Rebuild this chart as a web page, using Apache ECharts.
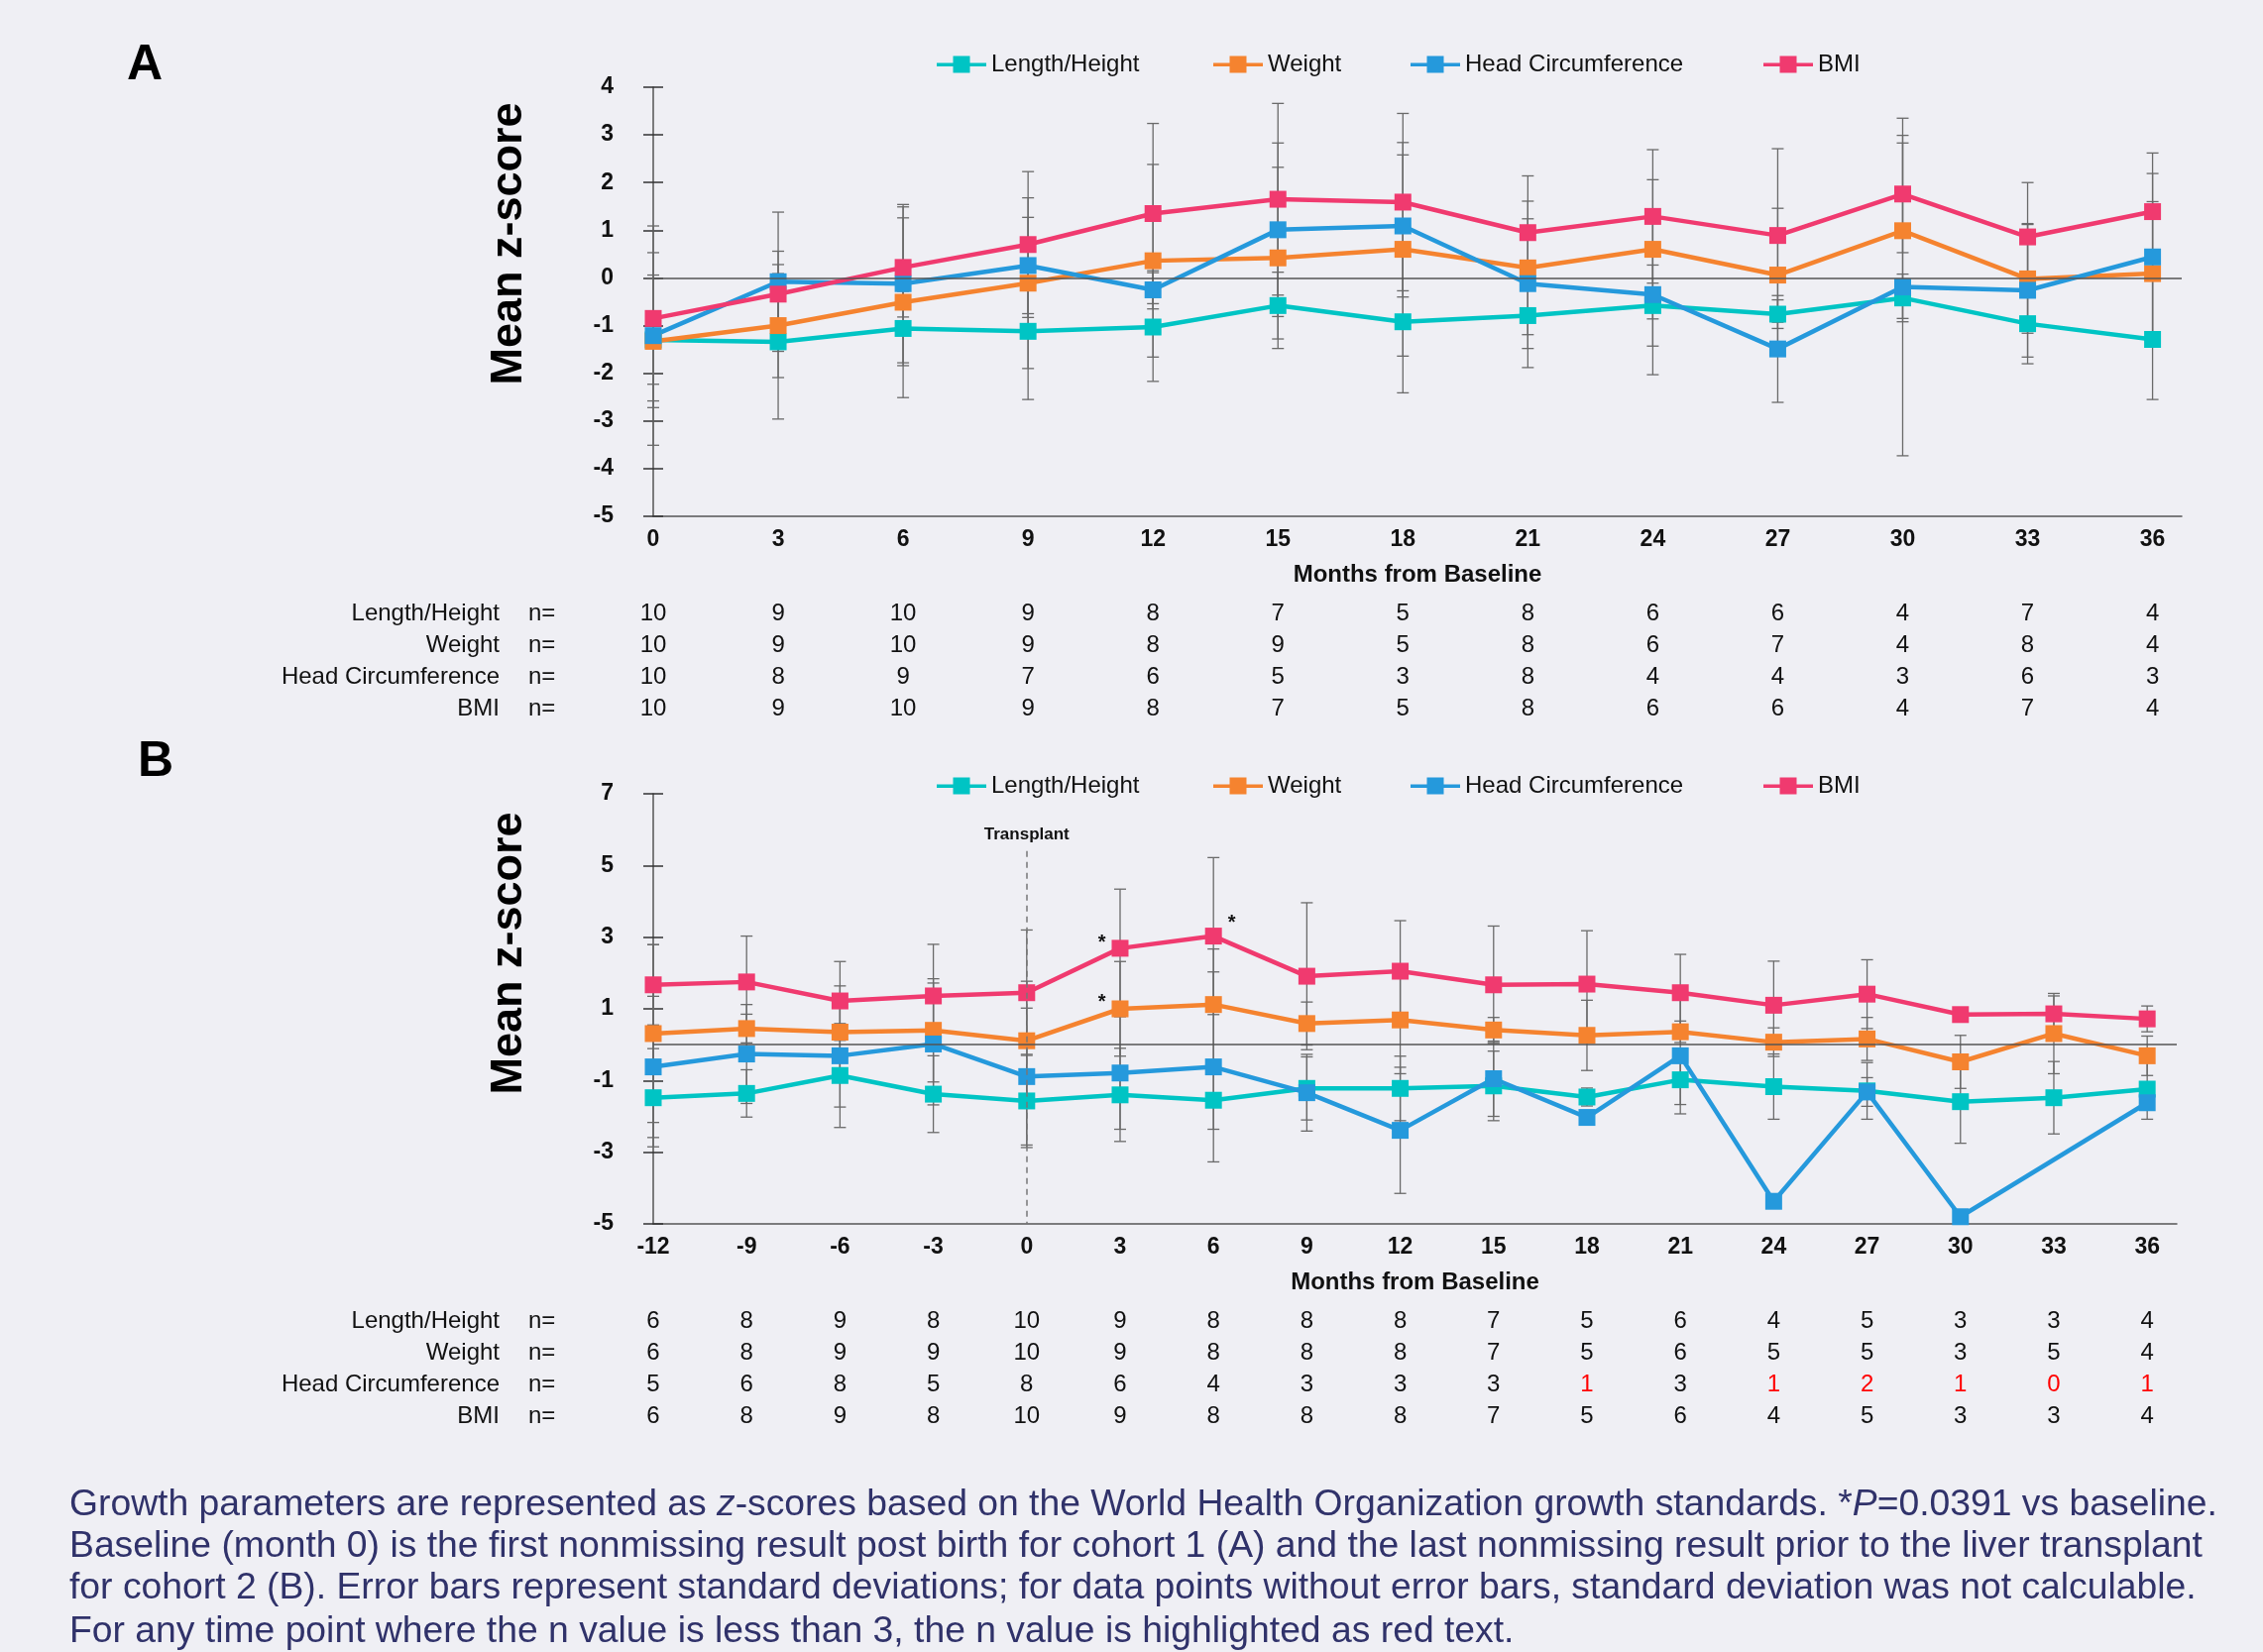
<!DOCTYPE html>
<html>
<head>
<meta charset="utf-8">
<script src="https://cdn.jsdelivr.net/npm/echarts@6/dist/echarts.min.js"></script>
<style>
html, body { margin: 0; padding: 0; background: #efeff4; }
#chart { width: 2283px; height: 1667px; }
</style>
</head>
<body>
<div id="chart"></div>
<script>
// ---- data ----
const seriesNames = ['Length/Height', 'Weight', 'Head Circumference', 'BMI']
const colors = ['#00c4c4', '#f5832f', '#2599dc', '#f03a6f']

// panel A (cohort 1)
const monthsA = [0, 3, 6, 9, 12, 15, 18, 21, 24, 27, 30, 33, 36]
const lhA = [-1.3, -1.34, -1.06, -1.12, -1.03, -0.58, -0.92, -0.79, -0.58, -0.76, -0.42, -0.96, -1.29]
const wA = [-1.33, -1.0, -0.51, -0.11, 0.36, 0.42, 0.60, 0.21, 0.60, 0.06, 0.99, -0.02, 0.09]
const hcA = [-1.21, -0.08, -0.12, 0.26, -0.25, 1.01, 1.09, -0.12, -0.35, -1.49, -0.19, -0.26, 0.44]
const bmiA = [-0.85, -0.34, 0.22, 0.70, 1.35, 1.65, 1.59, 0.95, 1.29, 0.89, 1.76, 0.86, 1.39]
const lhSdA = [1.28, 1.62, 0.78, 1.43, 1.14, 0.7, 1.49, 1.09, 0.85, 0.3, 0.5, 0.84, 1.26]
const wSdA = [1.39, 1.09, 2.0, 1.79, 2.02, 1.9, 2.24, 1.4, 1.46, 1.4, 1.84, 1.14, 1.51]
const hcSdA = [2.3, 1.46, 1.66, 1.01, 0.4, 1.82, 1.49, 1.36, 1.68, 1.12, 3.54, 1.4, 1.75]
const bmiSdA = [1.38, 0.9, 1.04, 1.53, 1.89, 2.01, 1.86, 1.19, 1.4, 1.82, 1.23, 1.14, 1.23]
const nLhA = [10, 9, 10, 9, 8, 7, 5, 8, 6, 6, 4, 7, 4]
const nWA = [10, 9, 10, 9, 8, 9, 5, 8, 6, 7, 4, 8, 4]
const nHcA = [10, 8, 9, 7, 6, 5, 3, 8, 4, 4, 3, 6, 3]
const nBmiA = [10, 9, 10, 9, 8, 7, 5, 8, 6, 6, 4, 7, 4]
const yTicksA = [-5, -4, -3, -2, -1, 0, 1, 2, 3, 4]

// panel B (cohort 2)
const monthsB = [-12, -9, -6, -3, 0, 3, 6, 9, 12, 15, 18, 21, 24, 27, 30, 33, 36]
const lhB = [-1.48, -1.36, -0.86, -1.38, -1.57, -1.40, -1.55, -1.22, -1.22, -1.15, -1.46, -0.98, -1.17, -1.29, -1.59, -1.48, -1.24]
const wB = [0.31, 0.45, 0.35, 0.40, 0.11, 1.0, 1.12, 0.59, 0.69, 0.41, 0.26, 0.36, 0.07, 0.16, -0.48, 0.31, -0.31]
const hcB = [-0.62, -0.26, -0.31, 0.02, -0.89, -0.79, -0.62, -1.34, -2.39, -0.95, -2.03, -0.31, -4.37, -1.32, -4.80, null, -1.62]
const bmiB = [1.67, 1.75, 1.22, 1.36, 1.45, 2.69, 3.03, 1.91, 2.05, 1.67, 1.69, 1.45, 1.10, 1.41, 0.84, 0.86, 0.72]
const lhSdB = [1.37, 0.66, 1.45, 1.07, 1.3, 1.3, 0.81, 0.88, 0.9, 0.97, 0.25, 0.69, 0.91, 0.79, 1.16, 1.01, 0.84]
const wSdB = [2.48, 0.4, 1.29, 1.44, 1.66, 1.32, 1.55, 0.6, 1.5, 0.35, 0.98, 0.3, 0.4, 0.6, 0.74, 1.12, 0.55]
const hcSdB = [1.97, 1.38, 1.43, 1.7, 1.91, 1.57, 2.65, 1.07, 1.76, 1.05, null, 1.62, null, 0.4, null, null, null]
const bmiSdB = [1.12, 1.28, 1.1, 1.44, 1.75, 1.65, 2.19, 2.05, 1.41, 1.64, 1.49, 1.07, 1.23, 0.96, 0.1, 0.5, 0.36]
const nLhB = [6, 8, 9, 8, 10, 9, 8, 8, 8, 7, 5, 6, 4, 5, 3, 3, 4]
const nWB = [6, 8, 9, 9, 10, 9, 8, 8, 8, 7, 5, 6, 5, 5, 3, 5, 4]
const nHcB = [5, 6, 8, 5, 8, 6, 4, 3, 3, 3, 1, 3, 1, 2, 1, 0, 1]
const nBmiB = [6, 8, 9, 8, 10, 9, 8, 8, 8, 7, 5, 6, 4, 5, 3, 3, 4]
const yTicksB = [-5, -3, -1, 1, 3, 5, 7]
// months with significance star (P=0.0391 vs baseline)
const starWeightB = [3]
const starBmiB = [3, 6]

const captionLines = [
  'Growth parameters are represented as {i|z}-scores based on the World Health Organization growth standards. *{i|P}=0.0391 vs baseline.',
  'Baseline (month 0) is the first nonmissing result post birth for cohort 1 (A) and the last nonmissing result prior to the liver transplant',
  'for cohort 2 (B). Error bars represent standard deviations; for data points without error bars, standard deviation was not calculable.',
  'For any time point where the n value is less than 3, the n value is highlighted as red text.'
]

// ---- helpers ----
const FONT = '"Liberation Sans", Arial, sans-serif'
const chart = echarts.init(document.getElementById('chart'))

function pairs(months, vals) {
  return months.map((m, i) => [m, vals[i]]).filter(d => d[1] != null)
}

function errorBars(months, vals, sds, xi, yi) {
  const data = months.map((m, i) => [m, vals[i], sds[i]]).filter(d => d[1] != null && d[2] != null)
  return {
    type: 'custom',
    xAxisIndex: xi,
    yAxisIndex: yi,
    z: 1,
    silent: true,
    data: data,
    renderItem: function (params, api) {
      const x = api.value(0), m = api.value(1), sd = api.value(2)
      const top = api.coord([x, m + sd])
      const bot = api.coord([x, m - sd])
      const w = 6
      const style = { stroke: '#6a6a6a', lineWidth: 1.3 }
      return {
        type: 'group',
        children: [
          { type: 'line', shape: { x1: top[0], y1: top[1], x2: bot[0], y2: bot[1] }, style: style },
          { type: 'line', shape: { x1: top[0] - w, y1: top[1], x2: top[0] + w, y2: top[1] }, style: style },
          { type: 'line', shape: { x1: bot[0] - w, y1: bot[1], x2: bot[0] + w, y2: bot[1] }, style: style }
        ]
      }
    }
  }
}

function lineSeries(idx, months, vals, xi, yi, stars) {
  let data = pairs(months, vals)
  if (stars) {
    data = data.map(d => {
      const s = stars[d[0]]
      if (!s) return d
      return {
        value: d,
        label: { show: true, formatter: '*', position: s[0], offset: s[1], distance: 6, fontSize: 20, fontWeight: 'bold', color: '#111' }
      }
    })
  }
  return {
    name: seriesNames[idx],
    type: 'line',
    xAxisIndex: xi,
    yAxisIndex: yi,
    z: 3,
    data: data,
    symbol: 'rect',
    symbolSize: 17,
    connectNulls: true,
    color: colors[idx],
    lineStyle: { width: 4.5, color: colors[idx] },
    itemStyle: { color: colors[idx] },
    emphasis: { disabled: true }
  }
}

function nTable(months, rows, xi, yi) {
  return {
    type: 'custom',
    xAxisIndex: xi,
    yAxisIndex: yi,
    silent: true,
    z: 4,
    data: months.map(m => [m, -5]),
    renderItem: function (params, api) {
      const i = params.dataIndex
      const p = api.coord([api.value(0), api.value(1)])
      return {
        type: 'group',
        children: rows.map((arr, r) => ({
          type: 'text',
          x: p[0],
          y: p[1] + 98 + r * 32,
          style: {
            text: String(arr[i]),
            fill: arr[i] < 3 ? '#ff0000' : '#111',
            fontSize: 24,
            fontFamily: FONT,
            align: 'center',
            verticalAlign: 'middle'
          }
        }))
      }
    }
  }
}

function xAxisCfg(gi, min, max, ticks) {
  return {
    gridIndex: gi, type: 'value', min: min, max: max,
    axisLine: { show: true, onZero: false, lineStyle: { color: '#555', width: 1.5 } },
    axisTick: { show: false },
    splitLine: { show: false },
    axisLabel: { customValues: ticks, fontWeight: 'bold', fontSize: 23, color: '#111', margin: 12, fontFamily: FONT },
    name: 'Months from Baseline', nameLocation: 'middle', nameGap: 47,
    nameTextStyle: { fontWeight: 'bold', fontSize: 24, color: '#111', fontFamily: FONT }
  }
}

function yAxisCfg(gi, min, max, ticks, inside) {
  return {
    gridIndex: gi, type: 'value', min: min, max: max, position: 'left',
    axisLine: { show: !inside, onZero: false, lineStyle: { color: '#555', width: 1.5 } },
    axisTick: { show: true, inside: inside, length: 10, customValues: ticks, lineStyle: { color: '#333', width: 1.5 } },
    axisLabel: { show: !inside, customValues: ticks, fontWeight: 'bold', fontSize: 23, color: '#111', margin: 40, fontFamily: FONT },
    splitLine: { show: false }
  }
}

// legend icon: line with a square marker in the middle
const legendIcon = 'path://M0,7L50,7L50,10.5L0,10.5Z M16.5,0L33.5,0L33.5,17L16.5,17Z'
const legendLefts = [940, 1219, 1418, 1774]
function legends(top) {
  return seriesNames.map((n, i) => ({
    data: [{ name: n, icon: legendIcon }], left: legendLefts[i], top: top, selectedMode: false,
    itemWidth: 50, itemHeight: 17, itemGap: 0,
    textStyle: { fontSize: 24, color: '#111', fontFamily: FONT }
  }))
}

function rowLabelGraphics(baseY) {
  const out = []
  seriesNames.forEach((t, r) => {
    out.push({ type: 'text', x: 504, y: baseY + 98 + r * 32, style: { text: t, fontSize: 24, fontFamily: FONT, fill: '#111', align: 'right', verticalAlign: 'middle' } })
    out.push({ type: 'text', x: 533, y: baseY + 98 + r * 32, style: { text: 'n=', fontSize: 24, fontFamily: FONT, fill: '#111', align: 'left', verticalAlign: 'middle' } })
  })
  return out
}

const starsW = {}
starWeightB.forEach(m => { starsW[m] = ['left', [0, -7]] })
const starsBmi = {}
starBmiB.forEach(m => { starsBmi[m] = m === 6 ? ['right', [0, -13]] : ['left', [0, -5]] })

const gridA = { left: 659, top: 88, width: 1542, height: 433 }
const gridB = { left: 659, top: 801, width: 1537, height: 434 }

const zeroLine = {
  silent: true, symbol: 'none', label: { show: false },
  lineStyle: { color: '#555', width: 1.5, type: 'solid' },
  data: [{ yAxis: 0 }]
}

const seriesA = [
  errorBars(monthsA, lhA, lhSdA, 0, 0),
  errorBars(monthsA, wA, wSdA, 0, 0),
  errorBars(monthsA, hcA, hcSdA, 0, 0),
  errorBars(monthsA, bmiA, bmiSdA, 0, 0),
  Object.assign(lineSeries(0, monthsA, lhA, 0, 0), { markLine: zeroLine }),
  lineSeries(1, monthsA, wA, 0, 0),
  lineSeries(2, monthsA, hcA, 0, 0),
  lineSeries(3, monthsA, bmiA, 0, 0),
  nTable(monthsA, [nLhA, nWA, nHcA, nBmiA], 0, 0)
]

const seriesB = [
  errorBars(monthsB, lhB, lhSdB, 1, 2),
  errorBars(monthsB, wB, wSdB, 1, 2),
  errorBars(monthsB, hcB, hcSdB, 1, 2),
  errorBars(monthsB, bmiB, bmiSdB, 1, 2),
  Object.assign(lineSeries(0, monthsB, lhB, 1, 2), { markLine: zeroLine }),
  Object.assign(lineSeries(1, monthsB, wB, 1, 2, starsW), {
    markLine: {
      silent: true, symbol: 'none',
      lineStyle: { color: '#777', width: 1.5, type: [6, 5] },
      label: { show: true, formatter: 'Transplant', position: 'start', distance: 8, fontWeight: 'bold', fontSize: 17, color: '#111', fontFamily: FONT },
      data: [[{ coord: [0, 5.4] }, { coord: [0, -5] }]]
    }
  }),
  lineSeries(2, monthsB, hcB, 1, 2),
  lineSeries(3, monthsB, bmiB, 1, 2, starsBmi),
  nTable(monthsB, [nLhB, nWB, nHcB, nBmiB], 1, 2)
]

const option = {
  backgroundColor: '#efeff4',
  animation: false,
  textStyle: { fontFamily: FONT },
  grid: [gridA, gridB],
  legend: legends(48).concat(legends(776)),
  xAxis: [
    xAxisCfg(0, 0, 36.7, monthsA),
    xAxisCfg(1, -12, 36.95, monthsB)
  ],
  yAxis: [
    yAxisCfg(0, -5, 4, yTicksA, false),
    yAxisCfg(0, -5, 4, yTicksA, true),
    yAxisCfg(1, -5, 7, yTicksB, false),
    yAxisCfg(1, -5, 7, yTicksB, true)
  ],
  graphic: [
    { type: 'text', x: 146, y: 66, style: { text: 'A', fontSize: 50, fontWeight: 'bold', fontFamily: FONT, fill: '#000', align: 'center', verticalAlign: 'middle' } },
    { type: 'text', x: 157, y: 769, style: { text: 'B', fontSize: 50, fontWeight: 'bold', fontFamily: FONT, fill: '#000', align: 'center', verticalAlign: 'middle' } },
    { type: 'text', x: 514, y: 246, rotation: Math.PI / 2, style: { text: 'Mean z-score', fontSize: 45, fontWeight: 'bold', fontFamily: FONT, fill: '#000', align: 'center', verticalAlign: 'middle' } },
    { type: 'text', x: 514, y: 962, rotation: Math.PI / 2, style: { text: 'Mean z-score', fontSize: 45, fontWeight: 'bold', fontFamily: FONT, fill: '#000', align: 'center', verticalAlign: 'middle' } }
  ]
    .concat(rowLabelGraphics(521))
    .concat(rowLabelGraphics(1235))
    .concat(captionLines.map((t, i) => ({
      type: 'text', x: 70, y: [1519, 1561, 1603, 1647][i],
      style: {
        text: t, fontSize: 37.3, fontFamily: FONT, fill: '#30326a', align: 'left', verticalAlign: 'middle',
        rich: { i: { fontStyle: 'italic', fontSize: 37.3, fontFamily: FONT, fill: '#30326a' } }
      }
    }))),
  series: seriesA.concat(seriesB)
}

chart.setOption(option)
</script>
</body>
</html>
